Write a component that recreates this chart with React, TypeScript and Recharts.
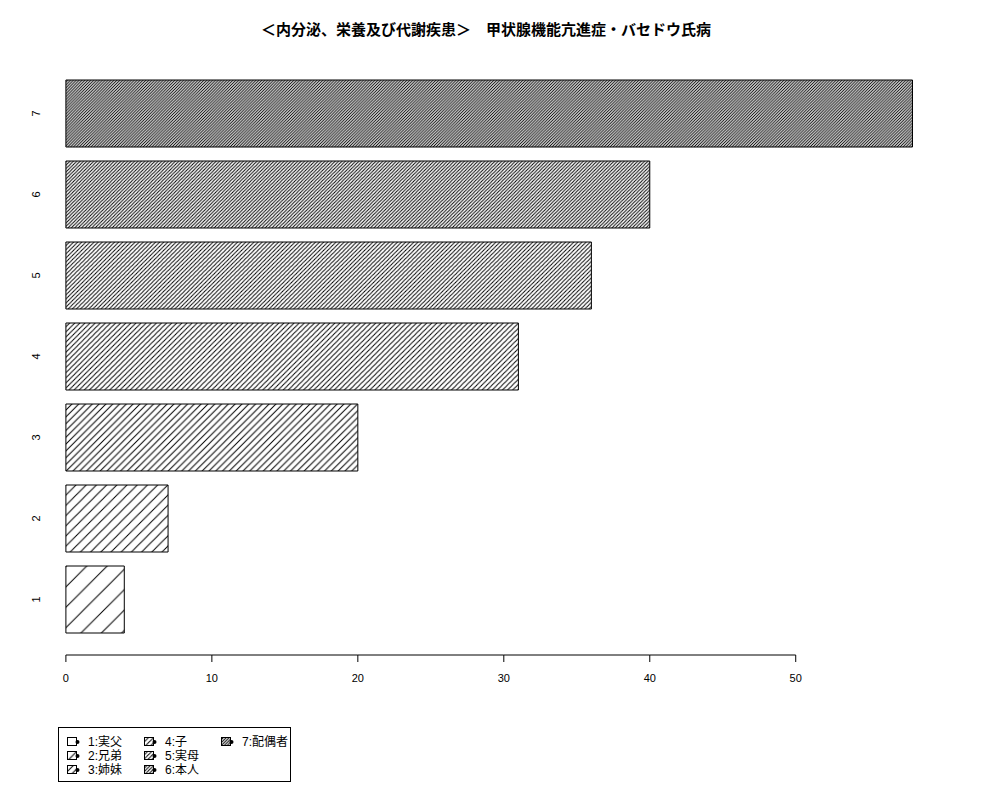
import React from 'react';
import { BarChart, Bar, Cell, XAxis, YAxis } from 'recharts';

const TITLE = '＜内分泌、栄養及び代謝疾患＞　甲状腺機能亢進症・バセドウ氏病';
const CATEGORIES = ['1', '2', '3', '4', '5', '6', '7'];
const COUNTS = [4, 7, 20, 31, 36, 40, 58];
const X_TICKS = [0, 10, 20, 30, 40, 50];
const LEGEND_LABELS = ['1:実父', '2:兄弟', '3:姉妹', '4:子', '5:実母', '6:本人', '7:配偶者'];

// horizontal distance between hatch lines, one per bar (sparse -> dense)
const HATCH_SPACING = [20.4, 10.2, 6.8, 5.1, 4.1, 3.4, 2.9];

const FONT = "'Liberation Sans', Arial, 'Noto Sans CJK JP', sans-serif";
const Y_LABEL_X = 40;

const CHART_W = 1000;
const MARGIN = { top: 58, right: 51, bottom: 105, left: 0 };
const Y_AXIS_W = 44;
const X_DOMAIN: [number, number] = [-1.5, 60.5];
const PLOT_W = CHART_W - MARGIN.left - MARGIN.right - Y_AXIS_W;
const TICK_STEP_PX = (PLOT_W * (X_TICKS[1] - X_TICKS[0])) / (X_DOMAIN[1] - X_DOMAIN[0]);

const data = CATEGORIES.map((name, i) => ({ name, value: COUNTS[i] }));

const HatchDefs = () => (
  <defs>
    {HATCH_SPACING.map((s, i) => (
      <pattern key={i} id={`hatch-${i}`} patternUnits="userSpaceOnUse" width={s} height={s}>
        <rect width={s} height={s} fill="#fff" />
        <path
          d={`M0,${s} L${s},0 M${-s / 4},${s / 4} L${s / 4},${-s / 4} M${(3 * s) / 4},${(5 * s) / 4} L${(5 * s) / 4},${(3 * s) / 4}`}
          stroke="#000"
          strokeWidth={1}
        />
      </pattern>
    ))}
  </defs>
);

const YTick = (props: any) => {
  const { y, payload } = props;
  return (
    <text
      transform={`translate(${Y_LABEL_X},${y}) rotate(-90)`}
      textAnchor="middle"
      fontSize={11}
      fontFamily={FONT}
      fill="#000"
    >
      {payload.value}
    </text>
  );
};

// R-style axis: the line only runs between the first and last tick
const XTick = (props: any) => {
  const { x, y, payload, index } = props;
  return (
    <g>
      {index > 0 && <line x1={x - TICK_STEP_PX} y1={y} x2={x} y2={y} stroke="#000" strokeWidth={1} />}
      <line x1={x} y1={y} x2={x} y2={y + 7} stroke="#000" strokeWidth={1} />
      <text x={x} y={y + 27} textAnchor="middle" fontSize={11} fontFamily={FONT} fill="#000">
        {payload.value}
      </text>
    </g>
  );
};

const LegendBox = () => {
  const colText = [87, 164, 241];
  const rowY = [741, 755, 769];
  return (
    <div
      style={{
        position: 'absolute',
        left: 58,
        top: 727,
        width: 233,
        height: 55,
        border: '1px solid #000',
        boxSizing: 'border-box',
      }}
    >
      {LEGEND_LABELS.map((label, i) => {
        const col = Math.floor(i / 3);
        const row = i % 3;
        const tx = colText[col] - 58;
        const ty = rowY[row] - 727;
        return (
          <div key={label}>
            <svg
              width={14}
              height={10}
              style={{ position: 'absolute', left: tx - 21, top: ty - 5 }}
            >
              <rect x={0.5} y={0.5} width={9} height={8} fill={`url(#hatch-${i})`} stroke="#000" strokeWidth={1} />
              <circle cx={10.5} cy={5} r={2} fill="#000" />
            </svg>
            <span
              style={{
                position: 'absolute',
                left: tx,
                top: ty - 8,
                fontSize: 12,
                lineHeight: '16px',
                fontFamily: FONT,
                whiteSpace: 'nowrap',
                color: '#000',
              }}
            >
              {label}
            </span>
          </div>
        );
      })}
    </div>
  );
};

export default function App() {
  return (
    <div style={{ position: 'absolute', left: 0, top: 0, width: 1000, height: 800, background: '#fff' }}>
      <div
        style={{
          position: 'absolute',
          left: 0,
          top: 20,
          width: 972,
          height: 18,
          lineHeight: '18px',
          textAlign: 'center',
          fontSize: 15,
          fontWeight: 'bold',
          fontFamily: "'Noto Sans CJK JP', sans-serif",
          color: '#000',
        }}
      >
        {TITLE}
      </div>
      <BarChart width={CHART_W} height={800} data={data} layout="vertical" margin={MARGIN}>
        <HatchDefs />
        <XAxis
          type="number"
          dataKey="value"
          domain={X_DOMAIN}
          ticks={X_TICKS}
          allowDataOverflow
          height={40}
          axisLine={false}
          tickLine={false}
          tickSize={0}
          tickMargin={0}
          tick={<XTick />}
          interval={0}
        />
        <YAxis
          type="category"
          dataKey="name"
          reversed
          width={Y_AXIS_W}
          padding={{ top: 15, bottom: 15 }}
          axisLine={false}
          tickLine={false}
          tickSize={0}
          tickMargin={0}
          tick={<YTick />}
          interval={0}
        />
        <Bar dataKey="value" barSize={67} stroke="#000" strokeWidth={1} isAnimationActive={false}>
          {data.map((d, i) => (
            <Cell key={d.name} fill={`url(#hatch-${i})`} />
          ))}
        </Bar>
      </BarChart>
      <LegendBox />
    </div>
  );
}
